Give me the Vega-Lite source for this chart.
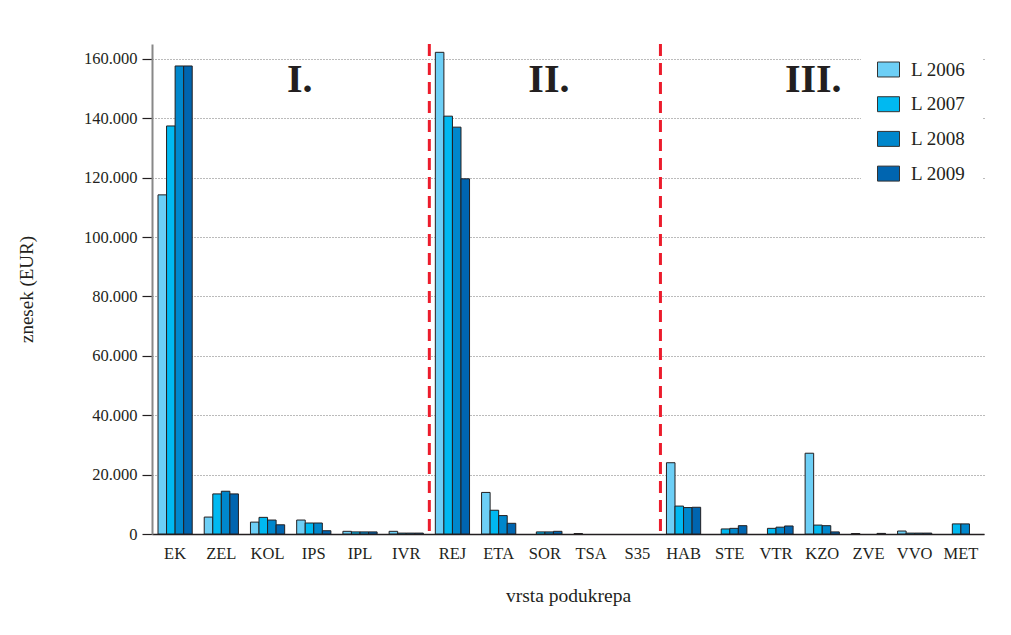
{
  "$schema": "https://vega.github.io/schema/vega-lite/v6.json",
  "width": 832,
  "height": 490,
  "autosize": {"type": "none"},
  "padding": {"left": 152, "top": 44, "right": 27, "bottom": 101},
  "background": "white",
  "config": {
    "view": {"stroke": null},
    "font": "Liberation Serif",
    "axis": {"labelFont": "Liberation Serif", "titleFont": "Liberation Serif", "labelColor": "#231f20", "titleColor": "#231f20", "titleFontWeight": "normal"}
  },
  "datasets": {
    "bars": [
      {"cat": "EK", "year": "L 2006", "value": 114200},
      {"cat": "EK", "year": "L 2007", "value": 137400},
      {"cat": "EK", "year": "L 2008", "value": 157600},
      {"cat": "EK", "year": "L 2009", "value": 157600},
      {"cat": "ZEL", "year": "L 2006", "value": 5700},
      {"cat": "ZEL", "year": "L 2007", "value": 13500},
      {"cat": "ZEL", "year": "L 2008", "value": 14400},
      {"cat": "ZEL", "year": "L 2009", "value": 13500},
      {"cat": "KOL", "year": "L 2006", "value": 4000},
      {"cat": "KOL", "year": "L 2007", "value": 5600},
      {"cat": "KOL", "year": "L 2008", "value": 4700},
      {"cat": "KOL", "year": "L 2009", "value": 3100},
      {"cat": "IPS", "year": "L 2006", "value": 4700},
      {"cat": "IPS", "year": "L 2007", "value": 3700},
      {"cat": "IPS", "year": "L 2008", "value": 3700},
      {"cat": "IPS", "year": "L 2009", "value": 1100},
      {"cat": "IPL", "year": "L 2006", "value": 900},
      {"cat": "IPL", "year": "L 2007", "value": 700},
      {"cat": "IPL", "year": "L 2008", "value": 700},
      {"cat": "IPL", "year": "L 2009", "value": 700},
      {"cat": "IVR", "year": "L 2006", "value": 900},
      {"cat": "IVR", "year": "L 2007", "value": 300},
      {"cat": "IVR", "year": "L 2008", "value": 300},
      {"cat": "IVR", "year": "L 2009", "value": 300},
      {"cat": "REJ", "year": "L 2006", "value": 162200},
      {"cat": "REJ", "year": "L 2007", "value": 140700},
      {"cat": "REJ", "year": "L 2008", "value": 137000},
      {"cat": "REJ", "year": "L 2009", "value": 119600},
      {"cat": "ETA", "year": "L 2006", "value": 14000},
      {"cat": "ETA", "year": "L 2007", "value": 8000},
      {"cat": "ETA", "year": "L 2008", "value": 6200},
      {"cat": "ETA", "year": "L 2009", "value": 3600},
      {"cat": "SOR", "year": "L 2007", "value": 700},
      {"cat": "SOR", "year": "L 2008", "value": 700},
      {"cat": "SOR", "year": "L 2009", "value": 900},
      {"cat": "TSA", "year": "L 2006", "value": 150},
      {"cat": "HAB", "year": "L 2006", "value": 24000},
      {"cat": "HAB", "year": "L 2007", "value": 9400},
      {"cat": "HAB", "year": "L 2008", "value": 8900},
      {"cat": "HAB", "year": "L 2009", "value": 9000},
      {"cat": "STE", "year": "L 2007", "value": 1700},
      {"cat": "STE", "year": "L 2008", "value": 1900},
      {"cat": "STE", "year": "L 2009", "value": 2800},
      {"cat": "VTR", "year": "L 2007", "value": 1900},
      {"cat": "VTR", "year": "L 2008", "value": 2300},
      {"cat": "VTR", "year": "L 2009", "value": 2700},
      {"cat": "KZO", "year": "L 2006", "value": 27200},
      {"cat": "KZO", "year": "L 2007", "value": 3000},
      {"cat": "KZO", "year": "L 2008", "value": 2800},
      {"cat": "KZO", "year": "L 2009", "value": 700},
      {"cat": "ZVE", "year": "L 2006", "value": 150},
      {"cat": "ZVE", "year": "L 2009", "value": 200},
      {"cat": "VVO", "year": "L 2006", "value": 1000},
      {"cat": "VVO", "year": "L 2007", "value": 300},
      {"cat": "VVO", "year": "L 2008", "value": 300},
      {"cat": "VVO", "year": "L 2009", "value": 300},
      {"cat": "MET", "year": "L 2007", "value": 3400},
      {"cat": "MET", "year": "L 2008", "value": 3400}
    ],
    "dividers": [{"cat": "REJ"}, {"cat": "HAB"}]
  },
  "layer": [
    {
      "data": {"name": "bars"},
      "mark": {"type": "bar", "stroke": "#231f20", "strokeWidth": 1},
      "encoding": {
        "x": {
          "field": "cat", "type": "nominal",
          "scale": {"domain": ["EK","ZEL","KOL","IPS","IPL","IVR","REJ","ETA","SOR","TSA","S35","HAB","STE","VTR","KZO","ZVE","VVO","MET"], "paddingInner": 0.26, "paddingOuter": 0.13},
          "axis": {"title": "vrsta podukrepa", "labelAngle": 0, "labelFontSize": 16.5, "labelPadding": 11, "ticks": false, "domainColor": "#231f20", "domainWidth": 1.5, "titleFontSize": 19.5, "titlePadding": 25}
        },
        "xOffset": {"field": "year", "type": "nominal", "scale": {"paddingInner": 0, "paddingOuter": 0}},
        "y": {
          "field": "value", "type": "quantitative",
          "scale": {"domain": [0, 165000], "nice": false},
          "axis": {
            "title": "znesek (EUR)", "values": [0,20000,40000,60000,80000,100000,120000,140000,160000],
            "labelExpr": "replace(format(datum.value, ','), ',', '.')",
            "labelFontSize": 16.5, "labelPadding": 5, "tickSize": 10, "tickColor": "#231f20", "tickWidth": 1.2,
            "domainColor": "#888888", "domainWidth": 2,
            "grid": true, "gridColor": "#777777", "gridDash": [1, 2], "gridWidth": 1,
            "titleFontSize": 19, "titlePadding": 47
          }
        },
        "color": {
          "field": "year", "type": "nominal",
          "scale": {"domain": ["L 2006", "L 2007", "L 2008", "L 2009"], "range": ["#6dcff6", "#00b9f1", "#0087cc", "#0065b0"]},
          "legend": {
            "title": null, "orient": "none", "legendX": 709, "legendY": -2, "padding": 16,
            "fillColor": "white", "labelFontSize": 19, "labelFont": "Liberation Serif", "labelColor": "#231f20",
            "symbolType": "M-1,-0.68H1V0.68H-1Z", "symbolSize": 484, "symbolStrokeColor": "#333333", "symbolStrokeWidth": 1,
            "rowPadding": 12.7, "labelOffset": 11
          }
        }
      }
    },
    {
      "data": {"name": "dividers"},
      "mark": {"type": "rule", "color": "#ec1c2c", "strokeWidth": 3, "strokeDash": [12, 7]},
      "encoding": {
        "x": {"field": "cat", "type": "nominal", "bandPosition": -0.1757}
      }
    },
    {
      "data": {"values": [{"cat": "IPS", "label": "I.", "value": 153000}]},
      "mark": {"type": "text", "font": "Liberation Serif", "fontWeight": "bold", "fontSize": 40, "dx": -14, "baseline": "middle", "color": "#231f20"},
      "encoding": {"x": {"field": "cat", "type": "nominal"}, "y": {"field": "value", "type": "quantitative"}, "text": {"field": "label"}}
    },
    {
      "data": {"values": [{"cat": "SOR", "label": "II.", "value": 153000}]},
      "mark": {"type": "text", "font": "Liberation Serif", "fontWeight": "bold", "fontSize": 40, "dx": 4, "baseline": "middle", "color": "#231f20"},
      "encoding": {"x": {"field": "cat", "type": "nominal"}, "y": {"field": "value", "type": "quantitative"}, "text": {"field": "label"}}
    },
    {
      "data": {"values": [{"cat": "KZO", "label": "III.", "value": 153000}]},
      "mark": {"type": "text", "font": "Liberation Serif", "fontWeight": "bold", "fontSize": 40, "dx": -9, "baseline": "middle", "color": "#231f20"},
      "encoding": {"x": {"field": "cat", "type": "nominal"}, "y": {"field": "value", "type": "quantitative"}, "text": {"field": "label"}}
    }
  ]
}
